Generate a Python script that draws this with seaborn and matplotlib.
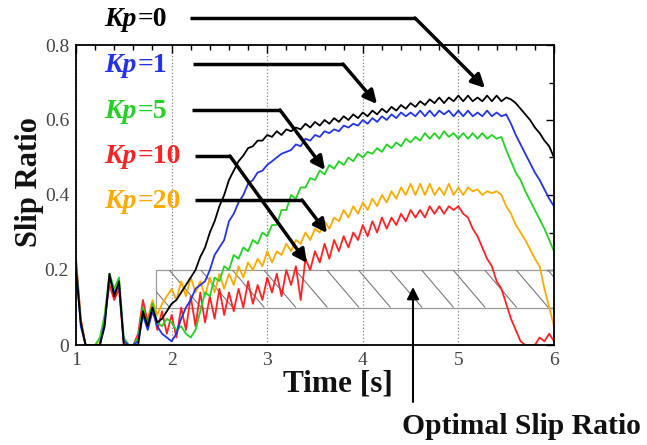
import numpy as np
import pandas as pd
import matplotlib
matplotlib.use("Agg")
import matplotlib.pyplot as plt
import seaborn as sns
from matplotlib.ticker import MultipleLocator, FuncFormatter
from matplotlib.patches import Rectangle, FancyArrowPatch
from matplotlib.lines import Line2D
from matplotlib.collections import LineCollection

# ---------------- data ----------------
time = np.round(np.linspace(1.0, 6.0, 101), 2)

kp0 = [0.20, 0.06, 0.00, 0.00, 0.00, 0.00, 0.05, 0.19, 0.13, 0.17, 0.00, 0.00, 0.00, 0.00,
       0.09, 0.05, 0.10, 0.06, 0.07, 0.09, 0.11,
       0.12, 0.14, 0.16, 0.18, 0.20, 0.235, 0.26, 0.30, 0.33, 0.37,
       0.40, 0.44, 0.465, 0.49, 0.505, 0.525, 0.53, 0.545, 0.545, 0.56,
       0.555, 0.57, 0.56, 0.575, 0.57, 0.58, 0.575, 0.59, 0.58, 0.595,
       0.585, 0.60, 0.59, 0.605, 0.595, 0.61, 0.60, 0.615, 0.605, 0.62,
       0.61, 0.625, 0.615, 0.63, 0.62, 0.635, 0.625, 0.64, 0.63, 0.645,
       0.635, 0.65, 0.64, 0.655, 0.645, 0.66, 0.645, 0.66, 0.65, 0.665,
       0.65, 0.665, 0.65, 0.66, 0.65, 0.665, 0.65, 0.665, 0.65, 0.66,
       0.655, 0.645, 0.63, 0.615, 0.60, 0.58, 0.565, 0.545, 0.53, 0.50]

kp1 = [0.21, 0.05, 0.00, 0.00, 0.00, 0.00, 0.06, 0.18, 0.14, 0.16, 0.01, 0.00, 0.00, 0.01,
       0.08, 0.04, 0.09, 0.05, 0.03, 0.02, 0.01,
       0.03, 0.07, 0.10, 0.12, 0.15, 0.16, 0.17, 0.20, 0.24, 0.26,
       0.28, 0.33, 0.35, 0.38, 0.40, 0.43, 0.44, 0.46, 0.465, 0.48,
       0.49, 0.50, 0.51, 0.515, 0.52, 0.535, 0.53, 0.55, 0.545, 0.56,
       0.555, 0.57, 0.565, 0.575, 0.57, 0.585, 0.58, 0.59, 0.585, 0.60,
       0.59, 0.605, 0.595, 0.61, 0.60, 0.615, 0.605, 0.62, 0.61, 0.62,
       0.61, 0.625, 0.61, 0.625, 0.61, 0.625, 0.615, 0.625, 0.61, 0.625,
       0.61, 0.625, 0.61, 0.62, 0.61, 0.625, 0.61, 0.62, 0.61, 0.615,
       0.59, 0.56, 0.535, 0.51, 0.485, 0.46, 0.44, 0.415, 0.39, 0.37]

kp5 = [0.22, 0.06, 0.00, 0.00, 0.00, 0.02, 0.08, 0.19, 0.15, 0.18, 0.02, 0.00, 0.00, 0.02,
       0.10, 0.05, 0.11, 0.06, 0.05, 0.07, 0.06,
       0.04, 0.05, 0.03, 0.02, 0.04, 0.09, 0.14, 0.13, 0.18, 0.17,
       0.21, 0.20, 0.24, 0.23, 0.26, 0.25, 0.28, 0.27, 0.30, 0.29,
       0.32, 0.32, 0.36, 0.36, 0.40, 0.39, 0.42, 0.42, 0.445, 0.44,
       0.465, 0.455, 0.48, 0.47, 0.49, 0.48, 0.50, 0.49, 0.51, 0.50,
       0.515, 0.51, 0.525, 0.515, 0.535, 0.525, 0.54, 0.53, 0.55, 0.54,
       0.555, 0.545, 0.565, 0.55, 0.565, 0.55, 0.57, 0.555, 0.565, 0.55,
       0.565, 0.55, 0.565, 0.55, 0.565, 0.55, 0.56, 0.55, 0.555, 0.52,
       0.49, 0.46, 0.44, 0.41, 0.385, 0.36, 0.335, 0.31, 0.28, 0.25]

kp10 = [0.23, 0.07, 0.00, 0.00, 0.00, 0.00, 0.07, 0.16, 0.12, 0.15, 0.00, 0.00, 0.00, 0.03,
        0.12, 0.06, 0.11, 0.04, 0.09, 0.03, 0.08,
        0.02, 0.10, 0.04, 0.13, 0.05, 0.14, 0.06, 0.13, 0.07, 0.15,
        0.08, 0.14, 0.09, 0.15, 0.10, 0.17, 0.11, 0.16, 0.12, 0.18,
        0.14, 0.19, 0.13, 0.20, 0.16, 0.21, 0.12, 0.23, 0.20, 0.25,
        0.22, 0.27, 0.23, 0.28, 0.25, 0.29, 0.26, 0.30, 0.28, 0.32,
        0.29, 0.33, 0.30, 0.34, 0.31, 0.34, 0.32, 0.35, 0.33, 0.36,
        0.34, 0.36, 0.34, 0.37, 0.35, 0.37, 0.35, 0.37, 0.36, 0.37,
        0.35, 0.34, 0.31, 0.29, 0.26, 0.23, 0.21, 0.17, 0.15, 0.11,
        0.07, 0.04, 0.01, 0.00, 0.00, 0.00, 0.02, 0.01, 0.03, 0.01]

kp20 = [0.22, 0.06, 0.00, 0.00, 0.00, 0.01, 0.08, 0.18, 0.13, 0.16, 0.01, 0.00, 0.00, 0.02,
        0.10, 0.07, 0.12, 0.08, 0.11, 0.13, 0.15,
        0.12, 0.17, 0.13, 0.18, 0.14, 0.17, 0.13, 0.18, 0.14, 0.19,
        0.15, 0.19, 0.16, 0.21, 0.18, 0.22, 0.20, 0.23, 0.21, 0.25,
        0.22, 0.25, 0.24, 0.27, 0.25, 0.28, 0.27, 0.30, 0.28, 0.31,
        0.30, 0.33, 0.31, 0.34, 0.33, 0.36, 0.34, 0.37, 0.35, 0.38,
        0.36, 0.39, 0.37, 0.40, 0.38, 0.41, 0.39, 0.42, 0.40, 0.43,
        0.40, 0.43, 0.40, 0.43, 0.40, 0.42, 0.40, 0.43, 0.40, 0.42,
        0.40, 0.42, 0.41, 0.415, 0.40, 0.41, 0.405, 0.41, 0.40, 0.37,
        0.35, 0.32, 0.30, 0.28, 0.255, 0.23, 0.21, 0.15, 0.10, 0.05]

series_names = ["Kp=0", "Kp=1", "Kp=5", "Kp=10", "Kp=20"]
series_gain = ["=0", "=1", "=5", "=10", "=20"]
series_values = [kp0, kp1, kp5, kp10, kp20]
series_colors = ["#000000", "#2233ee", "#22d422", "#ff2222", "#ffaa00"]
optimal_band = (0.1, 0.2)
band_start = 1.84

# ---------------- figure ----------------
sns.set_theme(style="white")
plt.rcParams['font.family'] = ['Liberation Serif', 'DejaVu Serif']

W, H = 647, 445
fig = plt.figure(figsize=(W / 100, H / 100), dpi=100)
ax = fig.add_axes([76 / W, 100 / H, 478 / W, 300 / H])

df = pd.concat([pd.DataFrame({"Time": time, "Slip": v, "Kp": n})
                for n, v in zip(series_names, series_values)], ignore_index=True)
palette = dict(zip(series_names, series_colors))
sns.lineplot(data=df, x="Time", y="Slip", hue="Kp",
             hue_order=["Kp=20", "Kp=10", "Kp=5", "Kp=1", "Kp=0"],
             palette=palette, linewidth=1.3, legend=False, ax=ax,
             estimator=None, sort=False)

ax.set_xlim(1, 6)
ax.set_ylim(0, 0.8)

# optimal slip ratio band with hatching
rect = Rectangle((band_start, optimal_band[0]), 6 - band_start,
                 optimal_band[1] - optimal_band[0], fill=False,
                 edgecolor="#999999", lw=0.9, zorder=1)
ax.add_patch(rect)
segs = [[(x0, optimal_band[1]), (x0 + 0.335, optimal_band[0])]
        for x0 in np.arange(1.645, 6.0, 0.33)]
lc = LineCollection(segs, colors="#7a7a7a", linewidths=0.8, zorder=1)
ax.add_collection(lc)
lc.set_clip_path(rect)

# grid and ticks
ax.xaxis.set_major_locator(MultipleLocator(1))
ax.xaxis.set_minor_locator(MultipleLocator(0.2))
ax.yaxis.set_major_locator(MultipleLocator(0.2))
ax.yaxis.set_minor_locator(MultipleLocator(0.1))
ax.grid(axis="x", which="major", linestyle=":", color="#888888", linewidth=0.9)
ax.grid(axis="y", visible=False)
ax.tick_params(which="both", direction="in", top=True, right=True,
               color="black", width=1.0)
ax.tick_params(which="major", length=6, labelsize=14, labelcolor="#444444", pad=5)
ax.tick_params(which="minor", length=3.5)
ax.yaxis.set_major_formatter(FuncFormatter(lambda v, p: "0" if abs(v) < 1e-9 else f"{v:.1f}"))
ax.xaxis.set_major_formatter(FuncFormatter(lambda v, p: f"{v:.0f}"))
for s in ax.spines.values():
    s.set_color("black")
    s.set_linewidth(1.3)
ax.set_xlabel("")
ax.set_ylabel("")

def fp(x, y):
    return (x / W, 1 - y / H)

fig.text(*fp(30, 182), "Slip Ratio", rotation=90, fontsize=22, fontweight="bold",
         ha="center", va="center", color="#111111")
fig.text(*fp(338, 392), "Time [s]", fontsize=22.5, fontweight="bold",
         ha="center", va="baseline", color="#111111")

# Kp labels with leader arrows
label_y = [26, 72, 118, 163, 208]
paths = [[(190, 18), (415, 18), (485, 88)],
         [(193, 64), (343, 64), (377, 104)],
         [(192, 110), (280, 110), (325, 170)],
         [(195, 156), (230, 156), (307, 263)],
         [(195, 200), (302, 200), (327, 233)]]
kp_texts = []
for gain, col, ly in zip(series_gain, series_colors, label_y):
    t1 = fig.text(*fp(104, ly), "Kp", color=col, fontsize=20, fontweight="bold",
                  fontstyle="italic", ha="left", va="baseline")
    kp_texts.append((t1, gain, col, ly))
fig.canvas.draw()
renderer = fig.canvas.get_renderer()
for t1, gain, col, ly in kp_texts:
    bb = t1.get_window_extent(renderer)
    fig.text(bb.x1 / W + 1 / W, 1 - ly / H, gain, color=col, fontsize=20,
             fontweight="bold", ha="left", va="baseline")

for pth in paths:
    (x1, y1), (x2, y2), (x3, y3) = pth
    fig.add_artist(Line2D([x1 / W, x2 / W], [1 - y1 / H, 1 - y2 / H],
                          transform=fig.transFigure, color="black", lw=2.5,
                          solid_capstyle="butt"))
    fig.add_artist(FancyArrowPatch(fp(x2, y2), fp(x3, y3), transform=fig.transFigure,
                                   arrowstyle="-|>", mutation_scale=20, lw=2.5,
                                   color="black", shrinkA=0, shrinkB=0))

# optimal slip ratio annotation
fig.add_artist(FancyArrowPatch(fp(413, 402), fp(413, 287), transform=fig.transFigure,
                               arrowstyle="-|>", mutation_scale=18, lw=1.5,
                               color="black", shrinkA=0, shrinkB=0))
fig.text(*fp(402, 434), "Optimal Slip Ratio", fontsize=21.3, fontweight="bold",
         ha="left", va="baseline", color="#111111")

fig.savefig("out.png", dpi=100)
